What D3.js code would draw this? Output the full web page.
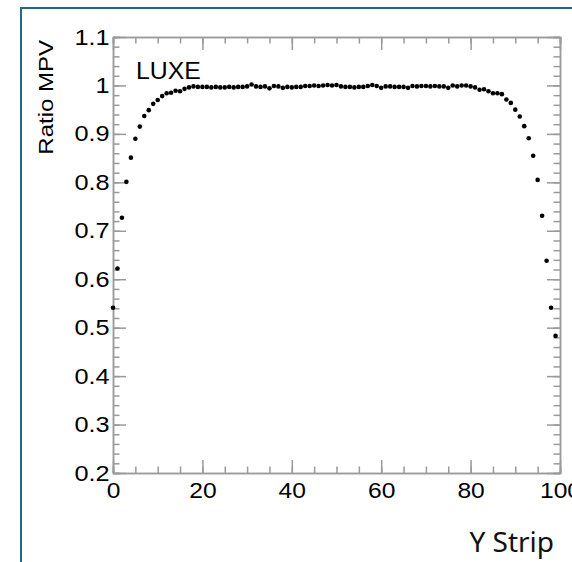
<!DOCTYPE html>
<html>
<head>
<meta charset="utf-8">
<script src="https://cdn.jsdelivr.net/npm/d3@7"></script>
<style>
  body { margin: 0; background: #fff; }
  svg { display: block; }
  .axis text { font-family: "Liberation Sans", Arial, sans-serif; font-size: 22px; fill: #000; }
  .axis line, .axis path { stroke: #9a9a9a; stroke-width: 1.5; }
</style>
</head>
<body>
<div id="chart"></div>
<script>
// strip index 0..99 and ratio of MPV
var strips = d3.range(0, 100);
var ratioMPV = [
  0.541, 0.622, 0.727, 0.801, 0.851, 0.890, 0.915, 0.937, 0.949, 0.962,
  0.970, 0.978, 0.984, 0.985, 0.989, 0.988, 0.993, 0.996, 0.998, 0.997,
  0.997, 0.997, 0.996, 0.997, 0.996, 0.996, 0.997, 0.996, 0.997, 0.997,
  0.998, 1.002, 0.998, 0.997, 0.998, 0.994, 0.999, 0.998, 0.995, 0.997,
  0.996, 0.997, 0.997, 0.999, 0.999, 1.000, 0.999, 1.000, 1.001, 1.000,
  1.001, 0.998, 0.997, 0.997, 0.996, 0.997, 0.997, 0.999, 1.001, 0.999,
  0.995, 0.998, 0.998, 0.997, 0.997, 0.997, 0.995, 0.999, 0.998, 0.999,
  0.999, 0.998, 0.999, 0.998, 0.998, 0.995, 1.000, 0.998, 1.000, 1.000,
  0.998, 0.996, 0.991, 0.992, 0.988, 0.984, 0.984, 0.982, 0.971, 0.964,
  0.950, 0.936, 0.916, 0.891, 0.855, 0.805, 0.731, 0.638, 0.541, 0.483
];
var xTicks = [0, 20, 40, 60, 80, 100];
var yTicks = [0.2, 0.3, 0.4, 0.5, 0.6, 0.7, 0.8, 0.9, 1, 1.1];

var W = 572, H = 562;
var svg = d3.select("#chart").append("svg")
    .attr("width", W)
    .attr("height", H);

// outer frame
svg.append("rect")
    .attr("x", 21).attr("y", 8)
    .attr("width", 700).attr("height", 700)
    .attr("fill", "none")
    .attr("stroke", "#1d6a8a")
    .attr("stroke-width", 2);

var x = d3.scaleLinear().domain([0, 100]).range([113, 560]);
var y = d3.scaleLinear().domain([0.2, 1.1]).range([473, 37]);

var xMinor = d3.range(0, 101, 5);
var yMinor = d3.range(0, 46).map(function(i) { return +(0.2 + i * 0.02).toFixed(2); });

// bottom
svg.append("g").attr("class", "axis")
    .attr("transform", "translate(0," + y(0.2) + ")")
    .call(d3.axisBottom(x).tickValues(xMinor).tickSize(-6.5).tickFormat(""));
var xAxis = svg.append("g").attr("class", "axis")
    .attr("transform", "translate(0," + y(0.2) + ")")
    .call(d3.axisBottom(x).tickValues(xTicks).tickSize(-13).tickSizeOuter(0).tickPadding(9).tickFormat(d3.format("d")));
// top
svg.append("g").attr("class", "axis")
    .attr("transform", "translate(0," + y(1.1) + ")")
    .call(d3.axisTop(x).tickValues(xMinor).tickSize(-6.5).tickFormat(""));
svg.append("g").attr("class", "axis")
    .attr("transform", "translate(0," + y(1.1) + ")")
    .call(d3.axisTop(x).tickValues(xTicks).tickSize(-13).tickSizeOuter(0).tickFormat(""));
// left
svg.append("g").attr("class", "axis")
    .attr("transform", "translate(" + x(0) + ",0)")
    .call(d3.axisLeft(y).tickValues(yMinor).tickSize(-6.5).tickFormat(""));
var yAxis = svg.append("g").attr("class", "axis")
    .attr("transform", "translate(" + x(0) + ",0)")
    .call(d3.axisLeft(y).tickValues(yTicks).tickSize(-13).tickSizeOuter(0).tickPadding(3)
      .tickFormat(function(d) { return d3.format("~g")(d); }));
// right
svg.append("g").attr("class", "axis")
    .attr("transform", "translate(" + x(100) + ",0)")
    .call(d3.axisRight(y).tickValues(yMinor).tickSize(-6.5).tickFormat(""));
svg.append("g").attr("class", "axis")
    .attr("transform", "translate(" + x(100) + ",0)")
    .call(d3.axisRight(y).tickValues(yTicks).tickSize(-13).tickSizeOuter(0).tickFormat(""));

svg.selectAll(".axis .domain").attr("stroke", "#9a9a9a");
// the original's text is wider than Arial
xAxis.selectAll("text").attr("transform", "scale(1.12,1)");
yAxis.selectAll("text").attr("transform", "scale(1.15,1)");

// points
svg.append("g").selectAll("circle")
    .data(strips)
  .enter().append("circle")
    .attr("cx", function(d) { return x(d); })
    .attr("cy", function(d, i) { return y(ratioMPV[i]); })
    .attr("r", 2.3)
    .attr("fill", "#000");

svg.append("text")
    .attr("transform", "translate(136,79) scale(1.08,1)")
    .style("font", "23px 'Liberation Sans', Arial, sans-serif")
    .attr("fill", "#000")
    .text("LUXE");

svg.append("text")
    .attr("transform", "translate(53,40) rotate(-90) scale(1.2,1)")
    .attr("text-anchor", "end")
    .style("font", "20px 'Liberation Sans', Arial, sans-serif")
    .attr("fill", "#000")
    .text("Ratio MPV");

svg.append("text")
    .attr("x", 554).attr("y", 552)
    .attr("text-anchor", "end")
    .style("font", "28px 'Noto Sans', sans-serif")
    .attr("fill", "#111")
    .text("Y Strip");
</script>
</body>
</html>
